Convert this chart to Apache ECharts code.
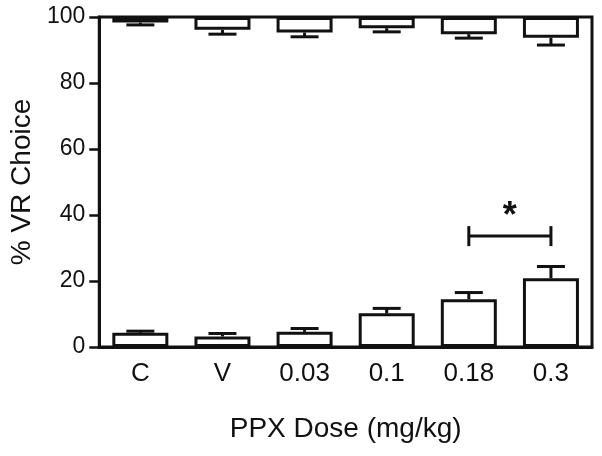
<!DOCTYPE html>
<html>
<head>
<meta charset="utf-8">
<script src="https://cdn.jsdelivr.net/npm/echarts@6/dist/echarts.min.js"></script>
<style>
  html, body { margin: 0; padding: 0; background: #fff; }
  #chart { width: 602px; height: 456px; }
</style>
</head>
<body>
<div id="chart"></div>
<script>
'use strict';

const categories = ['C', 'V', '0.03', '0.1', '0.18', '0.3'];
// lower bars (mean, mean + SEM)
const lowMeans = [4.3, 3.2, 4.6, 10.2, 14.5, 20.8];
const lowErr = [4.8, 4.1, 5.6, 11.7, 16.5, 24.4];
// upper bars hanging from 100 (mean, mean - SEM)
const highMeans = [98.3, 96.1, 95.3, 96.6, 94.8, 93.7];
const highErr = [97.6, 94.8, 94.0, 95.5, 93.6, 91.5];
// significance bracket between 0.18 and 0.3
const sigPair = [4, 5];
const sigLevel = 33.6;
const sigMark = '*';

const ink = '#111';
const font = 'Liberation Sans, Arial, sans-serif';

const chart = echarts.init(document.getElementById('chart'));

function errorBars(means, errs) {
  return {
    type: 'custom',
    z: 3,
    data: means.map((m, i) => [i, m, errs[i]]),
    renderItem(params, api) {
      const p0 = api.coord([api.value(0), api.value(1)]);
      const p1 = api.coord([api.value(0), api.value(2)]);
      const style = { stroke: ink, lineWidth: 3 };
      return {
        type: 'group',
        children: [
          { type: 'line', shape: { x1: p0[0], y1: p0[1], x2: p1[0], y2: p1[1] }, style },
          { type: 'line', shape: { x1: p1[0] - 14, y1: p1[1], x2: p1[0] + 14, y2: p1[1] }, style },
        ],
      };
    },
  };
}

const barStyle = { color: '#fff', borderColor: ink, borderWidth: 3 };

chart.setOption({
  animation: false,
  grid: {
    left: 97, right: 10, top: 17, bottom: 109,
    show: true, borderColor: ink, borderWidth: 3,
  },
  xAxis: {
    type: 'category',
    data: categories,
    name: 'PPX Dose (mg/kg)',
    nameLocation: 'middle',
    nameGap: 68,
    nameTextStyle: { fontFamily: font, fontSize: 28, color: ink },
    axisLine: { lineStyle: { color: ink, width: 3 } },
    axisTick: { alignWithLabel: true, length: 10, lineStyle: { color: ink, width: 2.5 } },
    axisLabel: { fontFamily: font, fontSize: 26, color: ink, margin: 14 },
  },
  yAxis: {
    type: 'value',
    min: 0, max: 100, interval: 20,
    name: '% VR Choice',
    nameLocation: 'middle',
    nameGap: 63,
    nameTextStyle: { fontFamily: font, fontSize: 28, color: ink },
    axisLine: { show: true, lineStyle: { color: ink, width: 3 } },
    axisTick: { show: true, length: 10, lineStyle: { color: ink, width: 2.5 } },
    axisLabel: { fontFamily: font, fontSize: 23, color: ink, margin: 14 },
    splitLine: { show: false },
  },
  series: [
    {
      type: 'bar', barWidth: 56, barGap: '-100%', stack: 'top',
      itemStyle: { color: 'transparent' },
      data: highMeans,
    },
    {
      type: 'bar', barWidth: 56, barGap: '-100%', stack: 'top',
      itemStyle: barStyle,
      data: highMeans.map(v => +(100 - v).toFixed(2)),
    },
    {
      type: 'bar', barWidth: 56, barGap: '-100%',
      itemStyle: barStyle,
      data: lowMeans,
    },
    errorBars(lowMeans, lowErr),
    errorBars(highMeans, highErr),
    {
      type: 'custom',
      z: 3,
      data: [[sigPair[0], sigPair[1], sigLevel]],
      renderItem(params, api) {
        const a = api.coord([api.value(0), api.value(2)]);
        const b = api.coord([api.value(1), api.value(2)]);
        const style = { stroke: ink, lineWidth: 3 };
        return {
          type: 'group',
          children: [
            { type: 'line', shape: { x1: a[0], y1: a[1], x2: b[0], y2: b[1] }, style },
            { type: 'line', shape: { x1: a[0], y1: a[1] - 10, x2: a[0], y2: a[1] + 10 }, style },
            { type: 'line', shape: { x1: b[0], y1: b[1] - 10, x2: b[0], y2: b[1] + 10 }, style },
            {
              type: 'text',
              x: (a[0] + b[0]) / 2, y: a[1] - 1,
              style: {
                text: sigMark, fill: ink, fontFamily: font, fontSize: 36, fontWeight: 'bold',
                align: 'center', verticalAlign: 'bottom',
              },
            },
          ],
        };
      },
    },
  ],
});
</script>
</body>
</html>
